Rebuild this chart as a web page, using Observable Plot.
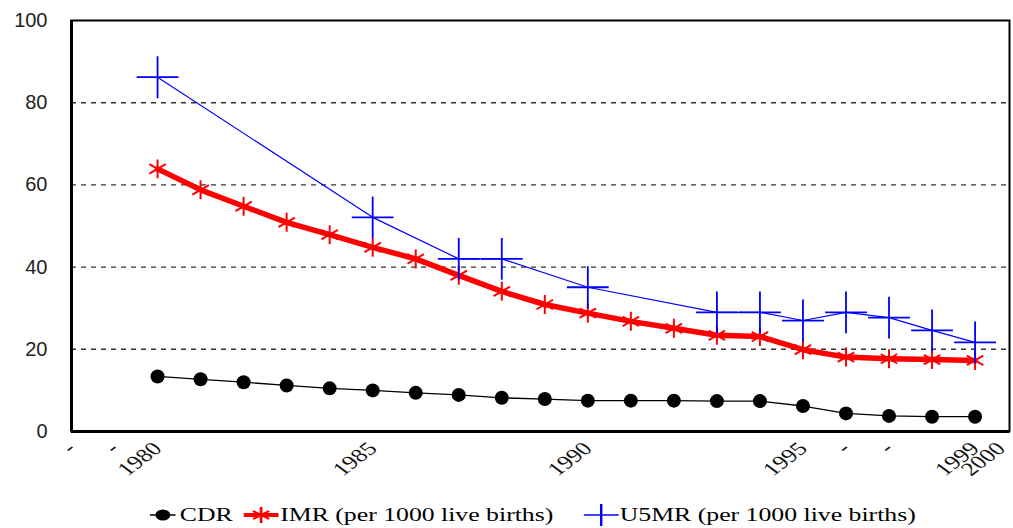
<!DOCTYPE html>
<html><head><meta charset="utf-8">
<script src="https://cdn.jsdelivr.net/npm/d3@7"></script>
<script src="https://cdn.jsdelivr.net/npm/@observablehq/plot@0.6"></script>
<style>
html,body{margin:0;padding:0;background:#fff;width:1013px;height:528px;overflow:hidden;position:relative}
#chart svg{display:block}
#legend{position:absolute;left:150px;top:503px;display:flex;align-items:center;transform-origin:0 50%;transform:scaleX(1.355);font-family:"Liberation Serif",serif;font-size:19px;color:#000;white-space:nowrap;line-height:24px}
#legend .item{display:flex;align-items:center}
#legend svg{display:block}
</style></head><body>
<div id="chart"></div>
<div id="legend"></div>
<script>
const years = [1980,1981,1982,1983,1984,1985,1986,1987,1988,1989,1990,1991,1992,1993,1994,1995,1996,1997,1998,1999];
const cdr  = [13.4,12.7,12.0,11.2,10.5,10.0,9.4,8.9,8.2,7.9,7.5,7.5,7.5,7.4,7.4,6.2,4.4,3.8,3.6,3.6];
const imr  = [63.9,58.8,54.8,50.9,47.9,44.8,42.0,38.0,34.1,30.9,28.8,26.8,25.1,23.4,23.1,19.9,18.1,17.7,17.5,17.3];
const u5mr = [86.2,null,null,null,null,52.1,null,42.0,42.0,null,35.1,null,null,29.0,29.0,27.0,29.0,27.7,24.6,21.7];
const xDomain = [1978, 1999.8];
const tickYears  = [1978,1979,1980,1985,1990,1995,1996,1997,1999,1999.6];
const tickLabels = ["-","-","1980","1985","1990","1995","-","-","1999","2000"];
const yTicks = [0,20,40,60,80,100];
const gridValues = [20,40,60,80];
const seriesNames = ["CDR","IMR (per 1000 live births)","U5MR (per 1000 live births)"];
const seriesColors = ["#000000","#ff0000","#0000ff"];

const rows = vals => years.map((year,i)=>({year, value: vals[i]})).filter(d => d.value != null);
const cdrRows = rows(cdr), imrRows = rows(imr), u5Rows = rows(u5mr);

const chart = Plot.plot({
  width: 1013, height: 500,
  marginTop: 20, marginBottom: 69, marginLeft: 71, marginRight: 4,
  style: {background: "#fff", overflow: "visible"},
  x: {domain: xDomain, label: null},
  y: {domain: [0, 100], label: null},
  marks: [
    Plot.ruleY(gridValues, {stroke: "#333", strokeDasharray: "5,5", strokeWidth: 1.4}),
    Plot.axisY({ticks: yTicks, tickSize: 0, tickPadding: 24, fontSize: 20, fontFamily: "Liberation Sans", fill: "#222", label: null}),
    Plot.axisX({ticks: tickYears, tickFormat: d => tickLabels[tickYears.indexOf(d)], tickSize: 0, tickPadding: 14, tickRotate: -45, fontSize: 19, fontFamily: "Liberation Serif", fill: "#111", label: null}),
    Plot.line(cdrRows, {x: "year", y: "value", stroke: seriesColors[0], strokeWidth: 1.3}),
    Plot.dot(cdrRows, {x: "year", y: "value", r: 7, fill: seriesColors[0]}),
    Plot.line(imrRows, {x: "year", y: "value", stroke: seriesColors[1], strokeWidth: 5.5}),
    Plot.dot(imrRows, {x: "year", y: "value", symbol: "asterisk", r: 9, stroke: seriesColors[1], strokeWidth: 2}),
    Plot.line(u5Rows, {x: "year", y: "value", stroke: seriesColors[2], strokeWidth: 1.2}),
    Plot.dot(u5Rows, {x: "year", y: "value", symbol: "plus", r: 13.5, stroke: seriesColors[2], strokeWidth: 1.8}),
    Plot.frame({stroke: "#000", strokeWidth: 2}),
    Plot.ruleX([xDomain[0]], {stroke: "#000", strokeWidth: 3}),
    Plot.ruleY([0], {stroke: "#000", strokeWidth: 3})
  ]
});
document.getElementById("chart").appendChild(chart);

// the reference picture is horizontally stretched: widen the rotated tick labels the same way
d3.select(chart).selectAll('g[aria-label="x-axis tick label"] text').each(function() {
  const t = this.getAttribute("transform") || "";
  if (/rotate\(/.test(t)) this.setAttribute("transform", t.replace(/rotate\(([-\d.]+)\)/, "scale(1.33,1) rotate($1)"));
});

const markers = [
  `<svg width="19" height="24"><line x1="0" x2="19" y1="12" y2="12" stroke="#000" stroke-width="1.5"/><circle cx="9.5" cy="12" r="5.5" fill="#000"/></svg>`,
  `<svg width="26" height="24"><line x1="0" x2="26" y1="12" y2="12" stroke="#ff0000" stroke-width="4"/><path d="M13,4V20M7,8L19,16M7,16L19,8" stroke="#ff0000" stroke-width="2" fill="none"/></svg>`,
  `<svg width="26" height="24"><line x1="0" x2="26" y1="12" y2="12" stroke="#0000ff" stroke-width="1.5"/><path d="M13,1V23" stroke="#0000ff" stroke-width="1.8"/></svg>`
];
const gapsBefore = [0, 8, 22];
const legend = document.getElementById("legend");
seriesNames.forEach((name, i) => {
  const item = document.createElement("div");
  item.className = "item";
  item.style.marginLeft = gapsBefore[i] + "px";
  item.innerHTML = markers[i] + `<span style="margin-left:${i === 0 ? 3 : 1}px">${name}</span>`;
  legend.appendChild(item);
});
</script>
</body></html>
